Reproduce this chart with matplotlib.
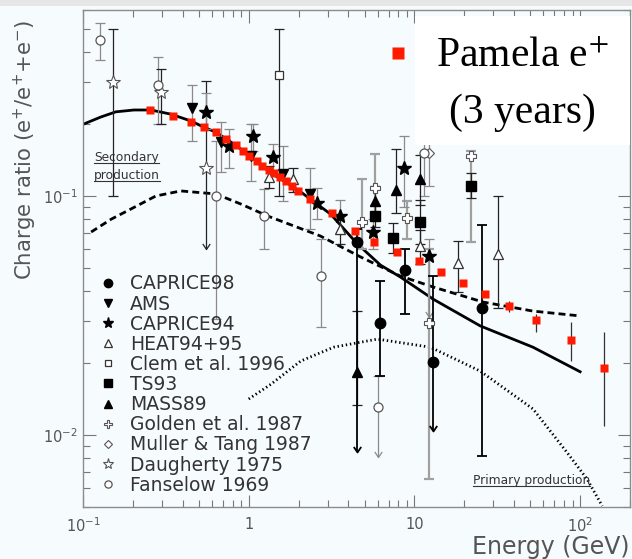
import matplotlib
matplotlib.use('Agg')
import matplotlib.pyplot as plt
from matplotlib.path import Path
from matplotlib.lines import Line2D
from matplotlib.patches import Rectangle
from matplotlib.font_manager import FontProperties
from matplotlib.ticker import FixedLocator, FixedFormatter, LogLocator, NullFormatter
from matplotlib.transforms import IdentityTransform
import numpy as np

# Pamela e+ fraction (3 years)
pamela_E = [0.253, 0.348, 0.448, 0.536, 0.633, 0.726, 0.835, 0.920, 1.01, 1.12, 1.21, 1.32, 1.43, 1.54,
            1.67, 1.82, 1.97, 2.33, 3.16, 4.35, 5.74, 7.9, 10.6, 14.5, 19.7, 26.8, 37.3, 54.3, 88.3, 139.5]
pamela_R = [0.229, 0.216, 0.204, 0.194, 0.185, 0.173, 0.163, 0.154, 0.147, 0.140, 0.134, 0.128, 0.125, 0.120,
            0.116, 0.110, 0.105, 0.097, 0.085, 0.0714, 0.0642, 0.0583, 0.0535, 0.0481, 0.0433, 0.0389, 0.0347,
            0.0303, 0.0250, 0.0191]
pamela_lo = [0.0327, 0.0270, 0.0204, 0.0109]   # last four points only
pamela_hi = [0.0364, 0.0321, 0.0297, 0.0270]

# model curves
sec_E = [0.101, 0.128, 0.158, 0.203, 0.257, 0.339, 0.448, 0.536, 0.633, 0.835, 1.03, 1.36, 1.67, 2.06,
         3.12, 4.53, 6.24, 8.24, 13.0, 25.0, 52.0, 100.0]
sec_R = [0.200, 0.214, 0.225, 0.229, 0.229, 0.220, 0.206, 0.194, 0.185, 0.163, 0.146, 0.125, 0.1144, 0.104,
         0.084, 0.063, 0.0514, 0.0458, 0.037, 0.0286, 0.0233, 0.0184]
dash_E = [0.112, 0.148, 0.195, 0.275, 0.389, 0.633, 0.895, 1.30, 2.71, 4.73, 8.2, 13.0, 26.0, 52.0, 100.0]
dash_R = [0.0707, 0.080, 0.0883, 0.100, 0.105, 0.102, 0.0926, 0.0825, 0.068, 0.0556, 0.0463, 0.0416,
          0.0360, 0.0330, 0.0315]
prim_E = [1.0, 1.36, 2.06, 3.25, 5.98, 12.5, 25.0, 52.0, 83.0, 110.0, 136.0]
prim_R = [0.01415, 0.0163, 0.0204, 0.0233, 0.0252, 0.0233, 0.0185, 0.01285, 0.00849, 0.00655, 0.00505]

# older experiments: energy, ratio, lower end, upper end, arrow at lower end
caprice98_E = [4.5, 6.24, 8.8, 13.0, 25.7]
caprice98_R = [0.064, 0.0293, 0.049, 0.0202, 0.0339]
caprice98_lo = [0.0085, 0.0177, 0.0321, 0.0104, 0.00817]
caprice98_hi = [0.0728, 0.0441, 0.060, 0.0463, 0.0756]
caprice98_down = [1, 0, 0, 1, 0]

ams_E = [0.454, 0.68, 1.03, 1.60, 2.33]
ams_R = [0.233, 0.168, 0.147, 0.124, 0.102]
ams_lo = [0.170, 0.126, 0.116, 0.095, 0.0728]
ams_hi = [0.291, 0.204, 0.200, 0.162, 0.131]

caprice94_E = [0.55, 0.76, 1.06, 1.41, 2.59, 3.58, 5.64, 8.6, 12.2]
caprice94_R = [0.225, 0.162, 0.178, 0.146, 0.0935, 0.0825, 0.0707, 0.131, 0.0561]
caprice94_lo = [0.19, 0.131, 0.155, 0.124, 0.080, 0.0693, 0.060, 0.090, 0.0312]
caprice94_hi = [0.27, 0.191, 0.20, 0.165, 0.108, 0.096, 0.080, 0.178, 0.066]
caprice94_down = [0, 0, 0, 0, 0, 0, 0, 0, 1]

heat_E = [1.32, 1.84, 3.58, 10.8, 18.4, 32.1]
heat_R = [0.120, 0.118, 0.0728, 0.0618, 0.0525, 0.0572]
heat_lo = [0.108, 0.104, 0.063, 0.052, 0.0397, 0.034]
heat_hi = [0.133, 0.131, 0.083, 0.072, 0.0648, 0.100]

clem_E = [1.52]
clem_R = [0.321]
clem_lo = [0.100]
clem_hi = [0.500]

ts93_E = [5.78, 7.47, 10.8, 21.9]
ts93_R = [0.0825, 0.0668, 0.0778, 0.110]
ts93_lo = [0.074, 0.058, 0.063, 0.098]
ts93_hi = [0.092, 0.077, 0.096, 0.125]

mass89_E = [4.5, 5.78, 7.7, 10.8]
mass89_R = [0.0184, 0.095, 0.106, 0.118]
mass89_lo = [0.0134, 0.080, 0.085, 0.092]
mass89_hi = [0.0330, 0.110, 0.157, 0.148]

golden_E = [4.86, 5.78, 9.07, 21.9, 12.2]
golden_R = [0.0778, 0.108, 0.081, 0.147, 0.0293]
golden_lo = [0.060, 0.085, 0.066, 0.0642, 0.00655]
golden_hi = [0.118, 0.150, 0.095, 0.154, 0.060]

muller_E = [12.2]
muller_R = [0.152]
muller_lo = [0.11]
muller_hi = [0.20]

daugherty_E = [0.152, 0.295, 0.55]
daugherty_R = [0.300, 0.272, 0.131]
daugherty_lo = [0.100, 0.200, 0.060]
daugherty_hi = [0.500, 0.340, 0.303]
daugherty_down = [0, 0, 1]

fanselow_E = [0.1265, 0.283, 0.633, 1.23, 2.74, 6.0, 11.5]
fanselow_R = [0.450, 0.291, 0.100, 0.0825, 0.0463, 0.0131, 0.151]
fanselow_lo = [0.371, 0.200, 0.0306, 0.060, 0.0283, 0.0081, 0.10]
fanselow_hi = [0.530, 0.382, 0.170, 0.107, 0.066, 0.0177, 0.20]
fanselow_down = [0, 0, 0, 0, 0, 1, 0]

BG = '#f6fbfd'
GRAY = '#8a8a8a'
TXT = '#555555'

ARROW = Path([(-1, 1.5), (0, 0), (1, 1.5)], [Path.MOVETO, Path.LINETO, Path.LINETO])

fig = plt.figure(figsize=(6.32, 5.59), dpi=100, facecolor=BG)
fig.patches.append(Rectangle((0, 1 - 6 / 559), 1, 6 / 559, transform=fig.transFigure,
                             facecolor='#e6e6e6', edgecolor='none'))
ax = fig.add_axes([83 / 632, 1 - 507 / 559, 547 / 632, 497 / 559])
ax.set_facecolor(BG)
ax.set_xscale('log')
ax.set_yscale('log')
ax.set_xlim(0.1, 200)
ax.set_ylim(0.005, 0.6)


def bars(E, R, lo, hi, color, down=None, lw=0.9):
    E = np.array(E)
    lo = np.array(lo)
    hi = np.array(hi)
    if down is None:
        down = [0] * len(E)
    down = np.array(down, dtype=bool)
    ax.vlines(E, lo, hi, colors=color, lw=lw, zorder=3)
    ax.plot(E, hi, ls='none', marker='_', ms=7, mew=lw, color=color, zorder=3)
    ax.plot(E[~down], lo[~down], ls='none', marker='_', ms=7, mew=lw, color=color, zorder=3)
    if down.any():
        ax.plot(E[down], lo[down], ls='none', marker=ARROW, ms=8, mew=lw, mfc='none', color=color, zorder=3)


# curves
ax.plot(sec_E, sec_R, color='black', lw=2.0, zorder=2)
ax.plot(dash_E, dash_R, color='black', lw=2.0, ls=(0, (2.5, 1.5)), zorder=2)
ax.plot(prim_E, prim_R, color='black', lw=2.0, ls=(0, (0.5, 1.0)), zorder=2)

# error bars
bars(fanselow_E, fanselow_R, fanselow_lo, fanselow_hi, GRAY, fanselow_down)
bars(daugherty_E, daugherty_R, daugherty_lo, daugherty_hi, '#222222', daugherty_down)
bars(golden_E, golden_R, golden_lo, golden_hi, '#a0a0a0', lw=1.6)
bars(muller_E, muller_R, muller_lo, muller_hi, GRAY)
bars(ams_E, ams_R, ams_lo, ams_hi, GRAY)
bars(caprice94_E, caprice94_R, caprice94_lo, caprice94_hi, GRAY, caprice94_down)
bars(heat_E, heat_R, heat_lo, heat_hi, '#222222')
bars(clem_E, clem_R, clem_lo, clem_hi, '#222222')
bars(ts93_E, ts93_R, ts93_lo, ts93_hi, '#222222')
bars(mass89_E, mass89_R, mass89_lo, mass89_hi, '#222222')
bars(caprice98_E, caprice98_R, caprice98_lo, caprice98_hi, 'black', caprice98_down, lw=1.3)
ax.vlines(pamela_E[-4:], pamela_lo, pamela_hi, colors='#333333', lw=0.9, zorder=3)

# markers
h = []
h += ax.plot(caprice98_E, caprice98_R, 'o', ms=7.5, color='black', label='CAPRICE98', zorder=4)
h += ax.plot(ams_E, ams_R, 'v', ms=7.5, color='black', label='AMS', zorder=4)
h += ax.plot(caprice94_E, caprice94_R, '*', ms=10, color='black', label='CAPRICE94', zorder=4)
h += ax.plot(heat_E, heat_R, '^', ms=7.5, mfc='white', mec='#333333', mew=0.9, label='HEAT94+95', zorder=4)
h += ax.plot(clem_E, clem_R, 's', ms=6, mfc='white', mec='#333333', mew=0.9, label='Clem et al. 1996', zorder=4)
h += ax.plot(ts93_E, ts93_R, 's', ms=6.5, color='black', label='TS93', zorder=4)
h += ax.plot(mass89_E, mass89_R, '^', ms=7, color='black', label='MASS89', zorder=4)
h += ax.plot(golden_E, golden_R, 'P', ms=7, mfc='white', mec='#555555', mew=0.8, label='Golden et al. 1987', zorder=4)
h += ax.plot(muller_E, muller_R, 'D', ms=5, mfc='white', mec='#555555', mew=0.8, label='Muller & Tang 1987', zorder=4)
h += ax.plot(daugherty_E, daugherty_R, '*', ms=10, mfc='white', mec='#555555', mew=0.8, label='Daugherty 1975', zorder=4)
h += ax.plot(fanselow_E, fanselow_R, 'o', ms=6.5, mfc='white', mec='#555555', mew=0.9, label='Fanselow 1969', zorder=4)
pam = ax.plot(pamela_E, pamela_R, 's', ms=5.8, color='#ff1a00', mec='none', zorder=5)

# white box behind the Pamela key
ax.add_patch(Rectangle((0.607, 0.728), 0.393, 0.26, transform=ax.transAxes, facecolor='white',
                       edgecolor='none', zorder=6, clip_on=False))

leg1 = ax.legend(handles=h, loc='upper left', bbox_to_anchor=(0.028, 0.468), frameon=False,
                 fontsize=13.5, handlelength=1.0, handletextpad=0.7, labelspacing=0.06,
                 borderpad=0, borderaxespad=0, markerscale=0.8, labelcolor='#333333')
leg1.set_zorder(7)
ax.add_artist(leg1)

serif = FontProperties(family='Liberation Serif', size=30, math_fontfamily='stix')
leg2 = ax.legend(handles=pam, labels=['Pamela e$^{+}$'], loc='center left', bbox_to_anchor=(0.557, 0.905),
                 frameon=False, prop=serif, handlelength=0.5, handletextpad=0.66, borderpad=0,
                 borderaxespad=0, markerscale=1.6)
leg2.set_zorder(8)
ax.text(0.8026, 0.772, '(3 years)', transform=ax.transAxes, ha='center', va='baseline',
        fontproperties=serif, zorder=8)

# annotations
t1 = ax.text(0.020, 0.704, 'Secondary', transform=ax.transAxes, fontsize=8.8, color='#333333',
             va='center', ha='left')
t2 = ax.text(0.020, 0.668, 'production', transform=ax.transAxes, fontsize=8.8, color='#333333',
             va='center', ha='left')
t3 = ax.text(0.713, 0.054, 'Primary production', transform=ax.transAxes, fontsize=8.8, color='#333333',
             va='center', ha='left')

# axes styling
ax.xaxis.set_major_locator(FixedLocator([0.1, 1, 10, 100]))
ax.xaxis.set_major_formatter(FixedFormatter(['$10^{-1}$', '1', '10', '$10^{2}$']))
ax.yaxis.set_major_locator(FixedLocator([0.01, 0.1]))
ax.yaxis.set_major_formatter(FixedFormatter(['$10^{-2}$', '$10^{-1}$']))
ax.xaxis.set_minor_locator(LogLocator(base=10, subs=np.arange(2, 10)))
ax.yaxis.set_minor_locator(LogLocator(base=10, subs=np.arange(2, 10)))
ax.xaxis.set_minor_formatter(NullFormatter())
ax.yaxis.set_minor_formatter(NullFormatter())
ax.tick_params(which='both', direction='in', top=True, right=True, color='#777777',
               labelcolor=TXT, labelsize=10.5, width=0.8)
ax.tick_params(which='major', length=9)
ax.tick_params(which='minor', length=5)
ax.tick_params(axis='x', pad=7)
ax.tick_params(axis='y', pad=4)
for s in ax.spines.values():
    s.set_color('#8c8c8c')
    s.set_linewidth(1.0)

fig.text(25 / 632, 1 - 150 / 559, 'Charge ratio (e$^{+}$/e$^{+}$+e$^{-}$)', rotation=90,
         ha='center', va='center', fontsize=15.3, color=TXT)
fig.text(629 / 632, 1 - 547 / 559, 'Energy (GeV)', ha='right', va='center', fontsize=17, color=TXT)

# underline the model labels
fig.canvas.draw()
r = fig.canvas.get_renderer()
for t in [t1, t2, t3]:
    bb = t.get_window_extent(r)
    fig.add_artist(Line2D([bb.x0, bb.x1], [bb.y0 + 1, bb.y0 + 1], transform=IdentityTransform(),
                          color='#333333', lw=0.8))

fig.savefig('out.png', dpi=100, facecolor=BG)
